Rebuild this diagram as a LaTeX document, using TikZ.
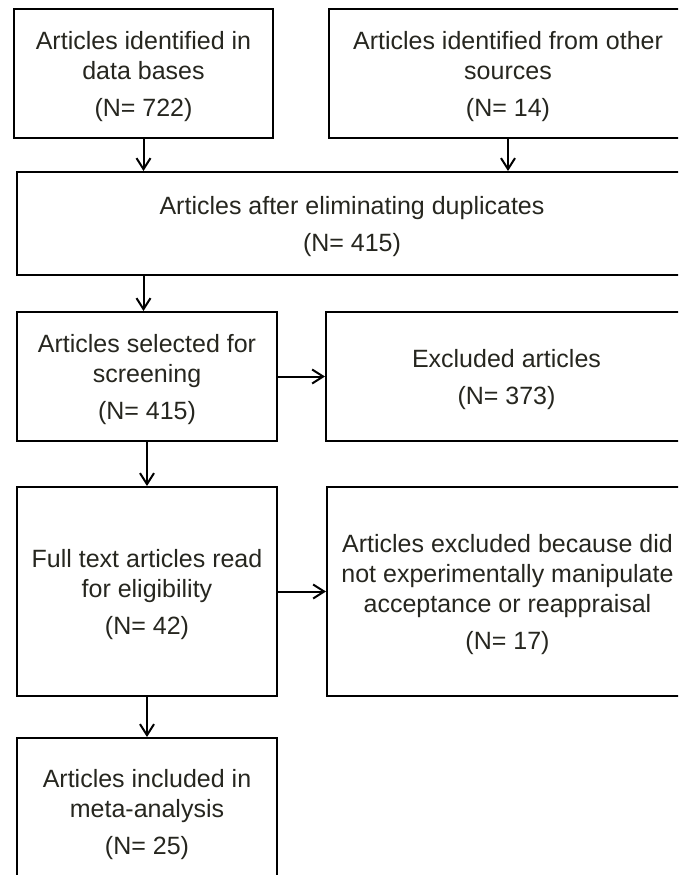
\documentclass[tikz,border=0pt]{standalone}
\usepackage{fontspec}
\setmainfont{Liberation Sans}
\usetikzlibrary{arrows.meta}
\definecolor{inkc}{HTML}{26261F}
\tikzset{
  stage/.style={draw=black, line width=2pt, rectangle, inner sep=0pt},
  stagetext/.style={align=center, text=inkc, inner sep=0pt, yshift=-3.5pt,
    font=\fontsize{25}{30}\selectfont},
  arr/.style={draw=black, line width=2pt,
    -{Straight Barb[length=11pt, width=14pt, line width=2pt]}}
}
\begin{document}
\begin{tikzpicture}[x=1pt, y=-1pt]
  \useasboundingbox (0,0) rectangle (678,875);
  \clip (0,0) rectangle (678,875);
  % identification
  \node[stage, minimum width=259pt, minimum height=129pt,
    label={[stagetext]center:Articles identified in\\data bases\\[7pt](N= 722)}]
    (b1) at (143.5,73.5) {};
  \node[stage, minimum width=358pt, minimum height=129pt,
    label={[stagetext]center:Articles identified from other\\sources\\[7pt](N= 14)}]
    (b2) at (508,73.5) {};
  % duplicates removed
  \node[stage, minimum width=670pt, minimum height=103pt,
    label={[stagetext]center:Articles after eliminating duplicates\\[7pt](N= 415)}]
    (b3) at (352,223.5) {};
  % screening
  \node[stage, minimum width=260pt, minimum height=129pt,
    label={[stagetext]center:Articles selected for\\screening\\[7pt](N= 415)}]
    (b4) at (147,376.5) {};
  \node[stage, minimum width=361pt, minimum height=129pt,
    label={[stagetext]center:Excluded articles\\[7pt](N= 373)}]
    (b5) at (506.5,376.5) {};
  % eligibility
  \node[stage, minimum width=260pt, minimum height=209pt,
    label={[stagetext]center:Full text articles read\\for eligibility\\[7pt](N= 42)}]
    (b6) at (147,591.5) {};
  \node[stage, minimum width=361pt, minimum height=209pt,
    label={[stagetext]center:Articles excluded because did\\not experimentally manipulate\\acceptance or reappraisal\\[7pt](N= 17)}]
    (b7) at (507.5,591.5) {};
  % included
  \node[stage, minimum width=260pt, minimum height=146pt,
    label={[stagetext]center:Articles included in\\meta-analysis\\[7pt](N= 25)}]
    (b8) at (147,811) {};
  % connectors
  \draw[arr] (b1.south) -- (b1.south |- b3.north);
  \draw[arr] (b2.south) -- (b2.south |- b3.north);
  \draw[arr] (b3.south -| b1.south) -- (b1.south |- b4.north);
  \draw[arr] (b4.east) -- (b4.east -| b5.west);
  \draw[arr] (b4.south) -- (b6.north);
  \draw[arr] (b6.east) -- (b6.east -| b7.west);
  \draw[arr] (b6.south) -- (b8.north);
\end{tikzpicture}
\end{document}
